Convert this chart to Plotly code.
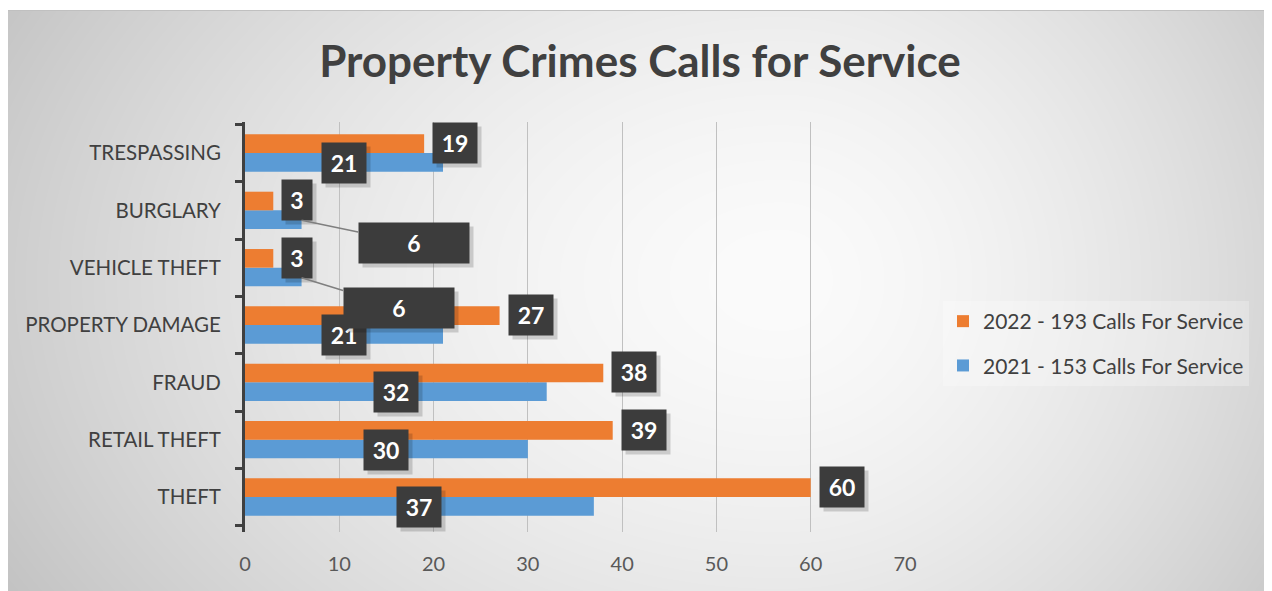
import base64, struct, zlib
import numpy as np
import plotly.graph_objects as go

# ---- data ----
categories = ["THEFT", "RETAIL THEFT", "FRAUD", "PROPERTY DAMAGE",
              "VEHICLE THEFT", "BURGLARY", "TRESPASSING"]
calls_2021 = [37, 30, 32, 21, 6, 6, 21]
calls_2022 = [60, 39, 38, 27, 3, 3, 19]
name_2021 = "2021 - 153 Calls For Service"
name_2022 = "2022 - 193 Calls For Service"
x_ticks = [0, 10, 20, 30, 40, 50, 60, 70]
title_text = "Property Crimes Calls for Service"

ORANGE = "#ED7D31"
BLUE = "#5B9BD5"
W, H = 1272, 591
OFF = 8  # page body margin
ML, MR, MT, MB = 245 - OFF, W - (905 - OFF), 122 - OFF, H - (532 - OFF)
PW, PH = W - ML - MR, H - MT - MB


# ---- gradient background as PNG ----
def make_bg():
    yy, xx = np.mgrid[0:H, 0:W].astype(float)
    xx += OFF
    yy += OFF
    cx, cy = 780.0, 280.0
    rx = np.where(xx < cx, 880.0, 640.0)
    r = np.sqrt(((xx - cx) / rx) ** 2 + ((yy - cy) / 620.0) ** 2)
    v = 251 - 55 * r ** 1.6
    v = np.clip(v, 188, 252)
    v[:2, :] = 255
    v[2, :] = 192
    return v.astype(np.uint8)


def png_uri(a):
    h, w = a.shape
    raw = b"".join(b"\x00" + a[i].tobytes() for i in range(h))

    def chunk(t, d):
        c = struct.pack(">I", len(d)) + t + d
        return c + struct.pack(">I", zlib.crc32(t + d) & 0xFFFFFFFF)

    png = b"\x89PNG\r\n\x1a\n" + chunk(b"IHDR", struct.pack(">IIBBBBB", w, h, 8, 0, 0, 0, 0)) \
        + chunk(b"IDAT", zlib.compress(raw, 9)) + chunk(b"IEND", b"")
    return "data:image/png;base64," + base64.b64encode(png).decode()


fig = go.Figure()
fig.add_trace(go.Bar(y=categories, x=calls_2021, orientation="h", name=name_2021,
                     marker=dict(color=BLUE, line=dict(width=0)),
                     legendgroup="g2021", legendrank=2))
fig.add_trace(go.Bar(y=categories, x=calls_2022, orientation="h", name=name_2022,
                     marker=dict(color=ORANGE, line=dict(width=0)),
                     legendgroup="g2022", legendrank=1))

LABEL_BG = "#3c3c3c"
SHADOW = "rgba(0,0,0,0.16)"
FONT_LBL = dict(family="Lato", size=23, color="white", weight="bold")


def label(x, y, text, xanchor="center", xshift=0, yshift=0, width=44):
    fig.add_annotation(x=x, y=y, xref="x", yref="y", text=" ", showarrow=False,
                       xanchor=xanchor, xshift=xshift + 4, yshift=yshift - 4,
                       width=width, height=40, borderpad=0,
                       bgcolor=SHADOW, font=FONT_LBL)
    fig.add_annotation(x=x, y=y, xref="x", yref="y", text=text, showarrow=False,
                       xanchor=xanchor, xshift=xshift, yshift=yshift,
                       width=width, height=40, borderpad=0,
                       bgcolor=LABEL_BG, font=FONT_LBL)


for cat, v21, v22 in zip(categories, calls_2021, calls_2022):
    w22 = 30 if v22 < 10 else 44
    label(v22, cat, str(v22), xanchor="left", xshift=8, yshift=10, width=w22)
    if v21 >= 10:
        label(v21 / 2, cat, str(v21), yshift=-10)

# moved labels with leader lines (value-6 bars)
for cat, ax, ay in [("BURGLARY", 112, 23), ("VEHICLE THEFT", 97, 30)]:
    v21 = calls_2021[categories.index(cat)]
    fig.add_annotation(x=v21, y=cat, xref="x", yref="y", text=" ",
                       showarrow=True, arrowcolor="rgba(0,0,0,0)", arrowwidth=0.1,
                       ax=ax + 4, ay=ay + 4, yshift=-10,
                       width=110, height=40, borderpad=0,
                       bgcolor=SHADOW, font=FONT_LBL)
    fig.add_annotation(x=v21, y=cat, xref="x", yref="y", text=str(v21),
                       showarrow=True, arrowhead=0, arrowwidth=1.5, arrowcolor="#7f7f7f",
                       ax=ax, ay=ay, standoff=0, yshift=-10,
                       width=110, height=40, borderpad=0,
                       bgcolor=LABEL_BG, font=FONT_LBL)

fig.add_layout_image(dict(source=png_uri(make_bg()), xref="paper", yref="paper",
                          x=-ML / PW, y=(PH + MT) / PH, sizex=W / PW, sizey=H / PH,
                          xanchor="left", yanchor="top", sizing="stretch", layer="below"))

fig.update_layout(
    width=W, height=H,
    margin=dict(l=ML, r=MR, t=MT, b=MB),
    paper_bgcolor="white", plot_bgcolor="rgba(0,0,0,0)",
    barmode="group", bargap=0.35, bargroupgap=0,
    title=dict(text=title_text, x=(640 - OFF) / W, xanchor="center",
               y=1 - (62 - OFF) / H, yanchor="middle",
               font=dict(family="Lato", size=44, color="#404040", weight="bold")),
    legend=dict(x=(943 - OFF - ML) / PW, y=(H - MB - (301 - OFF)) / PH,
                xanchor="left", yanchor="top",
                traceorder="grouped", tracegroupgap=14,
                bgcolor="rgba(255,255,255,0.25)",
                font=dict(family="Lato", size=21, color="#404040"),
                itemwidth=30),
    xaxis=dict(range=[0, 70], tickvals=x_ticks, showgrid=True, gridcolor="#c0c0c0",
               gridwidth=1, zeroline=False, showline=False, ticks="",
               ticklabelstandoff=18,
               tickfont=dict(family="Lato", size=20, color="#595959")),
    yaxis=dict(type="category", categoryorder="array", categoryarray=categories,
               showline=True, linecolor="#404040", linewidth=3,
               ticks="outside", tickson="boundaries", ticklen=7, tickwidth=3,
               tickcolor="#404040", showgrid=False, ticklabelstandoff=17,
               tickfont=dict(family="Lato", size=20.5, color="#404040")),
)

fig.write_html("out.html")
